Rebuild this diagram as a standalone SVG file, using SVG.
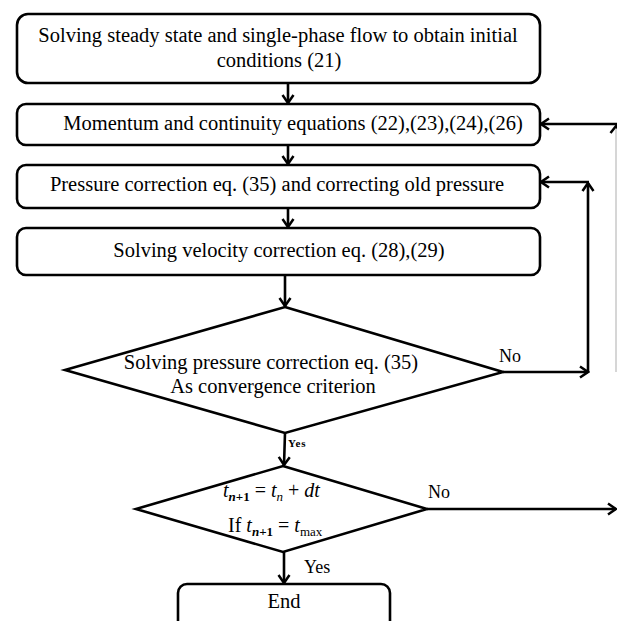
<svg xmlns="http://www.w3.org/2000/svg" width="617" height="621" viewBox="0 0 617 621">
<style>
.box{fill:#fff;stroke:#000;stroke-width:2.6}
.c{stroke:#000;stroke-width:2.6;fill:none}
</style>
<defs>
<marker id="ah" markerWidth="12" markerHeight="14" refX="10" refY="7" orient="auto" markerUnits="userSpaceOnUse">
<path d="M2,1.5 L10,7 L2,12.5" fill="none" stroke="#000" stroke-width="2.5" stroke-linejoin="miter"/>
</marker>
</defs>
<rect width="617" height="621" fill="#fff"/>
<g font-family="Liberation Serif, Tinos, Times New Roman, DejaVu Serif, serif" fill="#000">
<g id="connectors">
<line class="c" x1="288" y1="83" x2="288" y2="103" marker-end="url(#ah)"/>
<line class="c" x1="288" y1="145" x2="288" y2="164" marker-end="url(#ah)"/>
<line class="c" x1="288" y1="208" x2="288" y2="227" marker-end="url(#ah)"/>
<line class="c" x1="285" y1="275" x2="285" y2="306" marker-end="url(#ah)"/>
<line class="c" x1="285" y1="433" x2="284" y2="465" marker-end="url(#ah)"/>
<line class="c" x1="284" y1="552" x2="284" y2="583" marker-end="url(#ah)"/>
<line class="c" x1="503" y1="372" x2="588" y2="372" marker-end="url(#ah)"/>
<line class="c" x1="588" y1="372" x2="588" y2="183" marker-end="url(#ah)"/>
<line class="c" x1="589" y1="182" x2="541" y2="182" marker-end="url(#ah)"/>
<line class="c" x1="427" y1="509" x2="616" y2="509" marker-end="url(#ah)"/>
<line x1="616" y1="124" x2="616" y2="372" stroke="#c8c8c8" stroke-width="1.5"/>
<path d="M610.5,133 L616,126 L621.5,133" fill="none" stroke="#000" stroke-width="2.5"/>
<line class="c" x1="617" y1="124" x2="541" y2="124" marker-end="url(#ah)"/>
<text font-size="18" x="499" y="362">No</text>
<text font-size="11" font-weight="bold" letter-spacing="0.8" x="288" y="447">Yes</text>
<text font-size="18" x="428" y="498">No</text>
<text font-size="18" x="304" y="573">Yes</text>
</g>
<g id="n1">
<rect class="box" x="17" y="14" width="523" height="69" rx="11"/>
<text font-size="20.5" text-anchor="middle" x="278" y="42">Solving steady state and single-phase flow to obtain initial</text>
<text font-size="20.5" text-anchor="middle" x="279" y="67">conditions (21)</text>
</g>
<g id="n2">
<rect class="box" x="17" y="104" width="523" height="41" rx="9"/>
<text font-size="20.5" text-anchor="middle" x="293" y="130">Momentum and continuity equations (22),(23),(24),(26)</text>
</g>
<g id="n3">
<rect class="box" x="17" y="165" width="523" height="43" rx="9"/>
<text font-size="20.5" text-anchor="middle" x="277" y="191">Pressure correction eq. (35) and correcting old pressure</text>
</g>
<g id="n4">
<rect class="box" x="17" y="228" width="523" height="47" rx="9"/>
<text font-size="20.5" text-anchor="middle" x="279" y="257">Solving velocity correction eq. (28),(29)</text>
</g>
<g id="d1">
<polygon class="box" points="285,307 503,372 285,433 65,370"/>
<text font-size="20.5" text-anchor="middle" x="271" y="369">Solving pressure correction eq. (35)</text>
<text font-size="20.5" text-anchor="middle" x="273" y="393">As convergence criterion</text>
</g>
<g id="d2">
<polygon class="box" points="283,466 427,509 283,552 136,509"/>
<text font-size="20" x="223" y="497"><tspan font-style="italic">t</tspan><tspan font-size="13" font-weight="bold" font-style="italic" dy="4">n</tspan><tspan font-size="13" font-weight="bold">+1</tspan><tspan dy="-4"> = </tspan><tspan font-style="italic">t</tspan><tspan font-size="13" font-style="italic" dy="4">n</tspan><tspan dy="-4"> + </tspan><tspan font-style="italic">dt</tspan></text>
<text font-size="20" x="228" y="532">If <tspan font-style="italic">t</tspan><tspan font-size="13" font-weight="bold" font-style="italic" dy="4">n</tspan><tspan font-size="13" font-weight="bold">+1</tspan><tspan dy="-4"> = </tspan><tspan font-style="italic">t</tspan><tspan font-size="13" dy="4">max</tspan></text>
</g>
<g id="end">
<rect class="box" x="178" y="584" width="212" height="52" rx="9"/>
<text font-size="20.5" text-anchor="middle" x="284" y="608">End</text>
</g>
</g>
</svg>
